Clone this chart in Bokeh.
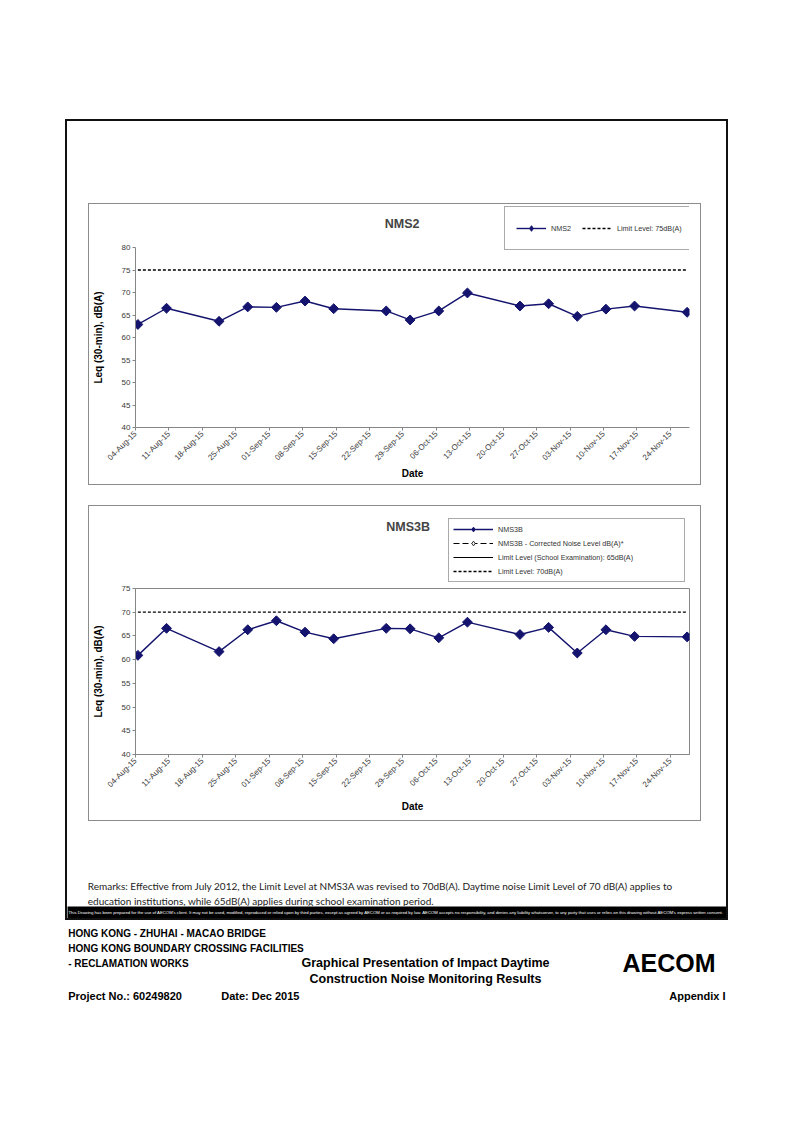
import pandas as pd
import math
from bokeh.plotting import figure
from bokeh.layouts import column
from bokeh.models import (ColumnDataSource, Range1d, FixedTicker, DatetimeTickFormatter,
                          Legend, LegendItem, Label)
from bokeh.transform import dodge
from bokeh.embed import file_html
from bokeh.resources import INLINE

# ---------------- data ----------------
survey_dates = ["2015-08-04", "2015-08-10", "2015-08-21", "2015-08-27", "2015-09-02",
                "2015-09-08", "2015-09-14", "2015-09-25", "2015-09-30", "2015-10-06",
                "2015-10-12", "2015-10-23", "2015-10-29", "2015-11-04", "2015-11-10",
                "2015-11-16", "2015-11-27"]
nms2_leq = [62.9, 66.5, 63.6, 66.8, 66.7, 68.1, 66.4, 65.9, 63.9, 65.9,
            69.9, 67.0, 67.5, 64.7, 66.3, 67.0, 65.6]
nms3b_leq = [60.9, 66.6, 61.7, 66.3, 68.2, 65.8, 64.4, 66.6, 66.5, 64.6,
             67.9, 65.3, 66.8, 61.4, 66.3, 64.9, 64.8]
nms2_limit = 75
nms3b_limit = 70
school_limit = 65
tick_dates = ["2015-08-04", "2015-08-11", "2015-08-18", "2015-08-25", "2015-09-01",
              "2015-09-08", "2015-09-15", "2015-09-22", "2015-09-29", "2015-10-06",
              "2015-10-13", "2015-10-20", "2015-10-27", "2015-11-03", "2015-11-10",
              "2015-11-17", "2015-11-24"]
axis_start = "2015-08-04"
axis_end = "2015-11-28"
nms2_y_ticks = [40, 45, 50, 55, 60, 65, 70, 75, 80]
nms3b_y_ticks = [40, 45, 50, 55, 60, 65, 70, 75]

remarks_1 = ("Remarks: Effective from July 2012, the Limit Level at NMS3A was revised to 70dB(A). "
             "Daytime noise Limit Level of 70 dB(A) applies to")
remarks_2 = "education institutions, while 65dB(A) applies during school examination period."
disclaimer = ("This Drawing has been prepared for the use of AECOM's client. It may not be used, modified, "
              "reproduced or relied upon by third parties, except as agreed by AECOM or as required by law. "
              "AECOM accepts no responsibility, and denies any liability whatsoever, to any party that uses "
              "or relies on this drawing without AECOM's express written consent.")

SERIES = "#14146e"
AX = "#868686"
FONT = "Liberation Sans"
HALF_DAY = 12 * 3600 * 1000
FIG_W = 611
FRAME_LEFT = 45   # frame left inside the chart box (page x 134)


def ms(s):
    return pd.Timestamp(s).value / 1e6


def blank(w, h, bg="white", alpha=1.0):
    f = figure(width=w, height=h, output_backend="svg", toolbar_location=None,
               x_axis_location=None, y_axis_location=None, min_border=0,
               x_range=Range1d(0, 1), y_range=Range1d(0, 1))
    f.grid.visible = False
    f.outline_line_color = None
    f.background_fill_color = bg
    f.border_fill_color = bg
    f.background_fill_alpha = alpha
    f.border_fill_alpha = alpha
    return f


def add_series(p, src, xd, legend_marker=False):
    r_line = p.line(x=xd, y="leq", source=src, line_color=SERIES, line_width=1.4)
    if legend_marker:
        r_pts = p.scatter(x=xd, y="leq", source=src, marker="diamond", size=7,
                          fill_color=SERIES, line_color=SERIES)
    else:
        r_pts = p.scatter(x=xd, y="leq", source=src, marker="square", angle=math.pi / 4, size=7,
                          fill_color=SERIES, line_color=SERIES)
    return r_line, r_pts


def add_limit(p, src, xd):
    return p.line(x=xd, y="leq", source=src, line_color="black", line_width=1.3, line_dash="3 2")


def make_chart(title, leq, limit, yticks, chart_h, frame_h, header_h, overlap,
               title_xy, legend_loc, school):
    src = ColumnDataSource(dict(date=pd.to_datetime(survey_dates), leq=leq))
    lim = ColumnDataSource(dict(date=pd.to_datetime([survey_dates[0], survey_dates[-1]]),
                                leq=[limit, limit]))

    # ---------- header (title + legend); its renderers share the chart's data ----------
    hd = blank(FIG_W, header_h, alpha=0)
    hd.add_layout(Label(x=title_xy[0], y=title_xy[1], x_units="screen", y_units="screen",
                        text=title, text_font=FONT, text_font_size="12.5px",
                        text_font_style="bold", text_baseline="middle", text_align="left"))
    h_line, h_pts = add_series(hd, src, "date", legend_marker=True)
    h_lim = add_limit(hd, lim, "date")
    if not school:
        items = [LegendItem(label=title, renderers=[h_line, h_pts]),
                 LegendItem(label="Limit Level: %ddB(A)" % limit, renderers=[h_lim])]
        leg = Legend(items=items, location=legend_loc, orientation="horizontal",
                     padding=11, spacing=11, label_height=20, glyph_height=14,
                     glyph_width=30, label_standoff=5, label_width=20)
    else:
        sch = ColumnDataSource(dict(date=pd.to_datetime([survey_dates[0], survey_dates[-1]]),
                                    leq=[school_limit, school_limit]))
        h_cl = hd.line(x="date", y="leq", source=src, line_color="black",
                       line_width=1.2, line_dash="6 3")
        h_cp = hd.scatter(x="date", y="leq", source=src, marker="diamond",
                          size=6, fill_color="white", line_color="#333333")
        h_sch = hd.line(x="date", y="leq", source=sch, line_color="black", line_width=1.2)
        items = [LegendItem(label=title, renderers=[h_line, h_pts]),
                 LegendItem(label=title + " - Corrected Noise Level dB(A)*", renderers=[h_cl, h_cp]),
                 LegendItem(label="Limit Level (School Examination): %ddB(A)" % school_limit,
                            renderers=[h_sch]),
                 LegendItem(label="Limit Level: %ddB(A)" % limit, renderers=[h_lim])]
        leg = Legend(items=items, location=legend_loc, orientation="vertical",
                     padding=4, spacing=2, label_height=12, glyph_height=12,
                     glyph_width=40, label_standoff=5, label_width=182)
    leg.label_text_font = FONT
    leg.label_text_font_size = "7.2px"
    leg.label_text_color = "#333333"
    leg.border_line_color = "#555555"
    leg.border_line_width = 1
    leg.background_fill_color = "white"
    leg.background_fill_alpha = 1
    hd.add_layout(leg)

    # ---------- chart ----------
    top = 10
    bottom = chart_h - top - frame_h
    p = figure(width=FIG_W, height=chart_h, x_axis_type="datetime", output_backend="svg",
               toolbar_location=None,
               x_range=Range1d(ms(axis_start), ms(axis_end)),
               y_range=Range1d(yticks[0], yticks[-1]),
               min_border_left=FRAME_LEFT, min_border_right=11, min_border_top=top,
               min_border_bottom=bottom)
    p.background_fill_alpha = 0
    p.border_fill_alpha = 0
    p.outline_line_color = AX if school else None
    p.grid.visible = False
    p.margin = (-overlap, 0, 0, 0)

    xd = dodge("date", HALF_DAY, range=p.x_range)
    add_limit(p, lim, xd)
    add_series(p, src, xd)

    p.xaxis.ticker = FixedTicker(ticks=[ms(d) for d in tick_dates])
    fmt = "%d-%b-%y"
    p.xaxis.formatter = DatetimeTickFormatter(days=fmt, months=fmt, years=fmt, hours=fmt,
                                              hourmin=fmt, minutes=fmt, seconds=fmt,
                                              minsec=fmt, milliseconds=fmt, microseconds=fmt)
    p.xaxis.major_label_orientation = math.pi / 4
    p.yaxis.ticker = FixedTicker(ticks=yticks)
    for ax in (p.xaxis, p.yaxis):
        ax.axis_line_color = AX
        ax.major_tick_line_color = AX
        ax.minor_tick_line_color = None
        ax.major_tick_out = 3
        ax.major_tick_in = 0
        ax.major_label_standoff = 2
        ax.major_label_text_font = FONT
        ax.major_label_text_font_size = "8px"
        ax.major_label_text_color = "#3a3a3a"
        ax.axis_label_text_font = FONT
        ax.axis_label_text_font_size = "10px"
        ax.axis_label_text_font_style = "bold"
        ax.axis_label_text_color = "black"
    p.xaxis.axis_label = "Date"
    p.yaxis.axis_label = "Leq (30-min), dB(A)"
    p.yaxis.axis_label_standoff = 15
    p.xaxis.axis_label_standoff = 6 if school else 0
    return hd, p


# header frames are aligned with the chart frames (page x 134 .. 689)
hd1, ch1 = make_chart("NMS2", nms2_leq, nms2_limit, nms2_y_ticks,
                      chart_h=247, frame_h=180, header_h=47, overlap=14,
                      title_xy=(249.3, 27.7), legend_loc=(369, 1), school=False)
hd2, ch2 = make_chart("NMS3B", nms3b_leq, nms3b_limit, nms3b_y_ticks,
                      chart_h=242, frame_h=166, header_h=77, overlap=5,
                      title_xy=(250.7, 57), legend_loc=(313, 1), school=True)

wrap1 = column(hd1, ch1, styles={"border": "1px solid #8c8c8c", "background": "white"},
               margin=(82, 0, 0, 21))
wrap2 = column(hd2, ch2, styles={"border": "1px solid #8c8c8c", "background": "white"},
               margin=(20, 0, 0, 21))

remarks = blank(659, 85)
remarks.add_layout(Label(x=20.3, y=21, x_units="screen", y_units="screen", text=remarks_1,
                         text_font="Lato", text_font_size="10px", text_baseline="middle",
                         text_color="#222222"))
remarks.add_layout(Label(x=20.3, y=5.5, x_units="screen", y_units="screen", text=remarks_2,
                         text_font="Lato", text_font_size="10px", text_baseline="middle",
                         text_color="#222222"))

band = blank(659, 12, "black")
band.add_layout(Label(x=1, y=6, x_units="screen", y_units="screen", text=disclaimer,
                      text_font=FONT, text_font_size="4.25px",
                      text_baseline="middle", text_color="white"))

outer = column(wrap1, wrap2, remarks, band,
               styles={"border": "2px solid #111111", "background": "white"},
               margin=(119, 0, 0, 65))

FH = 90
footer = blank(680, FH)


def flabel(text, px, py, size, align="left", baseline="middle"):
    footer.add_layout(Label(x=px - 65, y=FH - (py - 920), x_units="screen", y_units="screen",
                            text=text, text_font=FONT, text_font_size=size,
                            text_font_style="bold", text_align=align, text_baseline=baseline,
                            text_color="black"))


flabel("HONG KONG - ZHUHAI - MACAO BRIDGE", 67.7, 932.7, "10px")
flabel("HONG KONG BOUNDARY CROSSING FACILITIES", 67.7, 947.7, "10px")
flabel("- RECLAMATION WORKS", 67.7, 963.3, "10px")
flabel("Graphical Presentation of Impact Daytime", 425, 962.7, "12.5px", align="center")
flabel("Construction Noise Monitoring Results", 425, 978.3, "12.5px", align="center")
flabel("Project No.: 60249820", 67.7, 995.3, "11px")
flabel("Date: Dec 2015", 220.7, 995.3, "11px")
flabel("Appendix I", 725, 995.8, "11px", align="right")
flabel("AECOM", 622, 962.5, "25px", baseline="alphabetic")

footer.margin = (0, 0, 0, 65)

root = column(outer, footer)
open("out.html", "w").write(file_html(root, INLINE))
